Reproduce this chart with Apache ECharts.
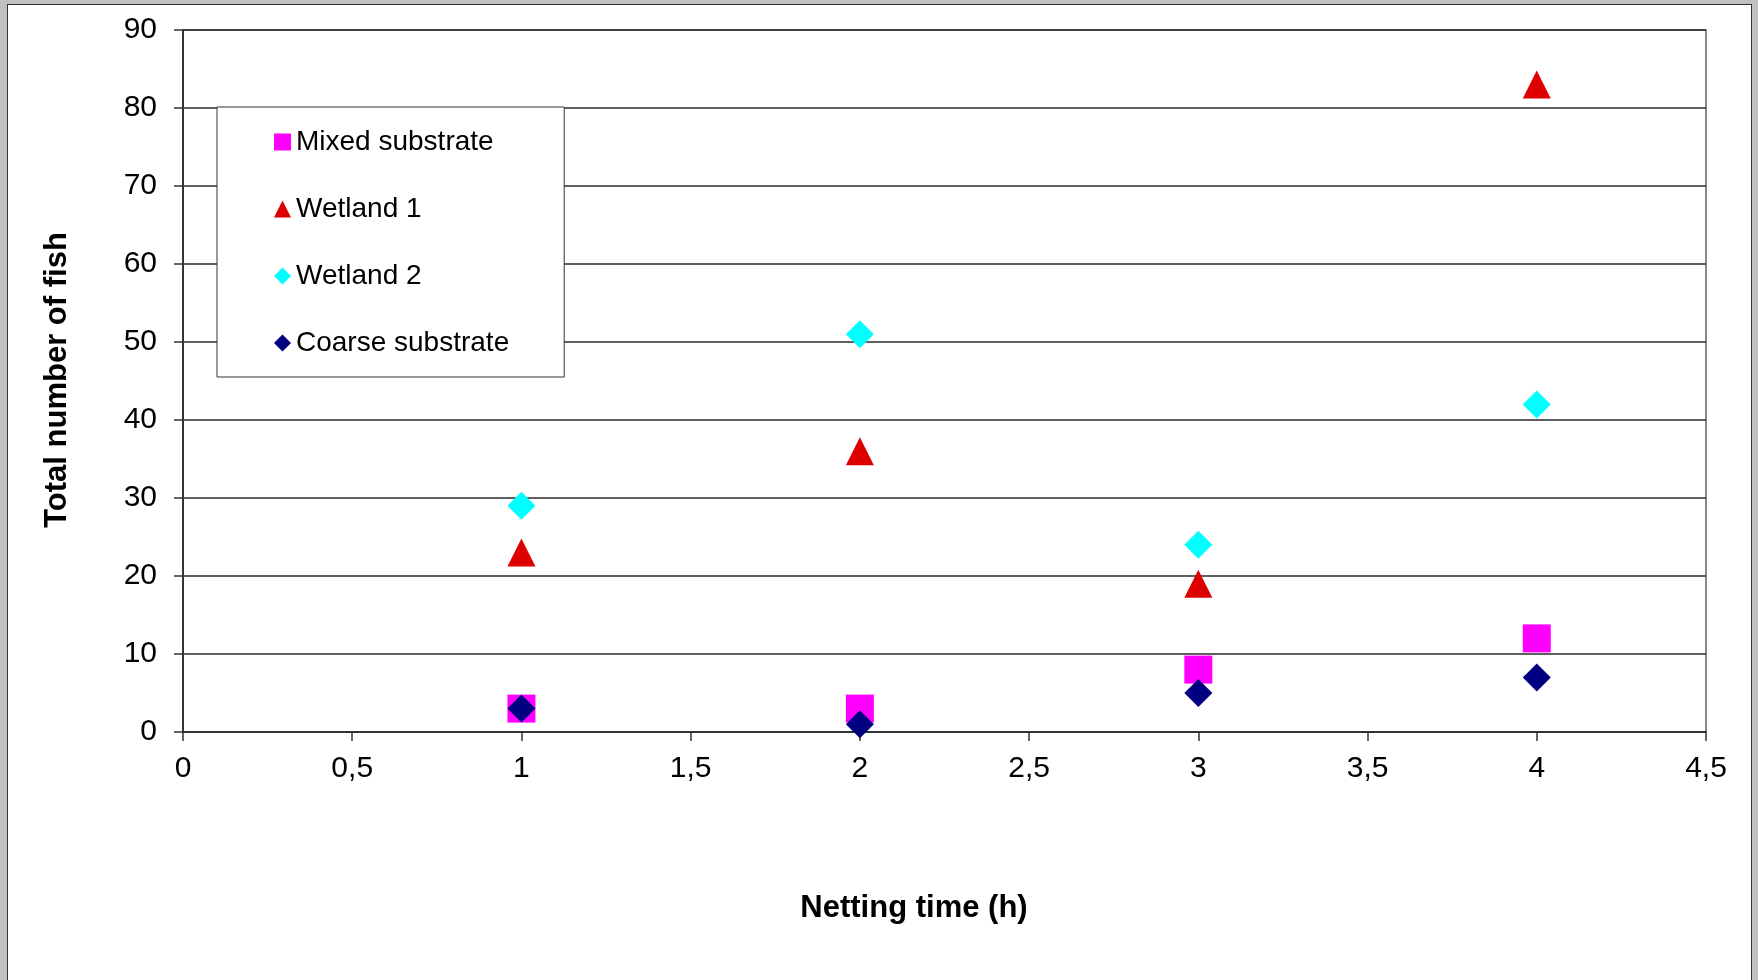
<!DOCTYPE html>
<html>
<head>
<meta charset="utf-8">
<script src="https://cdn.jsdelivr.net/npm/echarts@6.0.0/dist/echarts.min.js"></script>
<style>
  html, body { margin: 0; padding: 0; background: #c0c0c0; overflow: hidden; }
  #page { position: absolute; left: 7px; top: 4px; width: 1743px; height: 990px; background: #fff; border: 1.5px solid #333; }
  #chart { position: absolute; left: 0; top: 0; width: 1758px; height: 980px; }
</style>
</head>
<body>
<div id="page"></div>
<div id="chart"></div>
<script>
// netting time (h)
const hours = [1, 2, 3, 4]
// total number of fish per site
const mixedSubstrate = [3, 3, 8, 12]
const wetland1 = [23, 36, 19, 83]
const wetland2 = [29, 51, 24, 42]
const coarseSubstrate = [3, 1, 5, 7]
const seriesNames = ['Mixed substrate', 'Wetland 1', 'Wetland 2', 'Coarse substrate']
const xTitle = 'Netting time (h)'
const yTitle = 'Total number of fish'

const font = '"Liberation Sans", Arial, sans-serif'

function pairs (ys) {
  return hours.map((h, i) => [h, ys[i]])
}

function scatter (name, ys, symbol, color) {
  return {
    name: name,
    type: 'scatter',
    symbol: symbol,
    symbolSize: 28,
    itemStyle: { color: color, opacity: 1 },
    emphasis: { disabled: true },
    data: pairs(ys)
  }
}

let myChart = echarts.init(document.getElementById('chart'))
myChart.setOption({
  animation: false,
  textStyle: { fontFamily: font },
  grid: {
    left: 183,
    top: 30,
    right: 52,
    bottom: 248,
    show: true,
    backgroundColor: '#fff',
    borderColor: '#888',
    borderWidth: 2
  },
  // axis titles sit off-centre in the original, so place them by hand
  graphic: [
    {
      type: 'text',
      x: 914,
      y: 908,
      style: {
        text: xTitle,
        font: 'bold 31px ' + font,
        fill: '#000',
        align: 'center',
        verticalAlign: 'middle'
      }
    },
    {
      type: 'text',
      x: 57,
      y: 380,
      rotation: Math.PI / 2,
      style: {
        text: yTitle,
        font: 'bold 31px ' + font,
        fill: '#000',
        align: 'center',
        verticalAlign: 'middle'
      }
    }
  ],
  legend: {
    orient: 'vertical',
    left: 217,
    top: 107,
    padding: [21, 55, 20, 57],
    itemWidth: 17,
    itemHeight: 17,
    itemGap: 39,
    backgroundColor: '#fff',
    borderColor: '#333',
    borderWidth: 1,
    textStyle: { fontSize: 28, lineHeight: 28, color: '#000', fontFamily: font },
    data: seriesNames
  },
  xAxis: {
    type: 'value',
    min: 0,
    max: 4.5,
    interval: 0.5,
    axisLine: { show: true, onZero: false, lineStyle: { color: '#333', width: 2 } },
    axisTick: { show: true, length: 9, lineStyle: { color: '#333', width: 1.5 } },
    axisLabel: {
      margin: 22,
      fontSize: 30,
      color: '#000',
      formatter: v => String(v).replace('.', ',')
    },
    splitLine: { show: false }
  },
  yAxis: {
    type: 'value',
    min: 0,
    max: 90,
    interval: 10,
    axisLine: { show: true, lineStyle: { color: '#333', width: 2 } },
    axisTick: { show: true, length: 9, lineStyle: { color: '#333', width: 1.5 } },
    axisLabel: { margin: 26, fontSize: 30, color: '#000' },
    splitLine: { show: true, lineStyle: { color: '#2a2a2a', width: 1.5 } }
  },
  series: [
    scatter(seriesNames[0], mixedSubstrate, 'rect', '#ff00ff'),
    scatter(seriesNames[1], wetland1, 'triangle', '#dd0000'),
    scatter(seriesNames[2], wetland2, 'diamond', '#00ffff'),
    scatter(seriesNames[3], coarseSubstrate, 'diamond', '#000080')
  ]
})
</script>
</body>
</html>
